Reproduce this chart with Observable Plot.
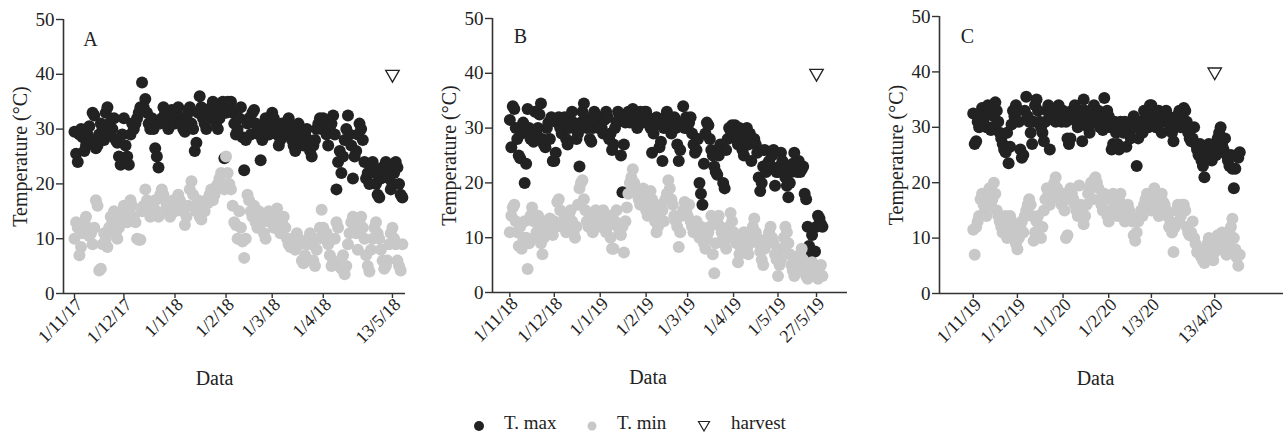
<!DOCTYPE html>
<html><head><meta charset="utf-8">
<script src="https://cdn.jsdelivr.net/npm/d3@7"></script>
<script src="https://cdn.jsdelivr.net/npm/@observablehq/plot@0.6"></script>
<style>
body{margin:0;background:#fff;}
#wrap{position:relative;width:1283px;height:434px;overflow:hidden;font-family:"Liberation Serif","Times New Roman",serif;color:#222;}
.panel{position:absolute;top:0;}
.panel text{font-family:"Liberation Serif","Times New Roman",serif;}
.lg{position:absolute;font-size:19px;line-height:1;}
</style></head><body><div id="wrap"></div>
<script>
// ---------- DATA ----------
// Panel A: daily values from 1/11/2017
const startA = "2017-11-01";
const tmaxA = [
29.5,25.5,24,29,30,28.5,26,27,29,30.5,28,33,32.5,26.5,27,29,31,30,28,33,34,31,29,30,32,28,27.5,25,23.5,29,
32,27,25,23.5,29,31,30,31,32,33,34,38.5,34,35.5,33,31,30,32,30,26.5,25,23,31,32,34,33,31,30,32,33.5,31,
31,33,34,32,31,30,29.5,32,33,34,31,30,26,27.5,33,36,34,32,31,30,32,33,34,35,33,31,30,32,34,35,24.7,
33,35,34,35,33,31,29,30,32,34,28.5,22.5,28,31,32,29,33,33.5,31,30,29,24.3,28,31,32,30,29,31,
33,32,30,29,27,28,31,30,29,31,32,30,28,27,26,29,31,30,28,27,29,30,28,26,25,27,28,30,31,32,30,
32,31,29,27,30,31,32.5,29,19,24,26,22,25,28,30,32.5,29,27,21,25,26,29,31,30,28,24,21,22,20,23,
24,22,20,18,17.5,21,23,22,24,23.5,21,19,20,22,24,23,20,18,17.5];
const tminA = [
10,13,12,7,8.5,11,13,14,12,10.5,11,9,12,17,16,4.2,4.5,9,11,10,8.5,12,14,13,15,11,10,12,14,15,
16,14,13,15.5,17,16,14,13,10,9.8,9.8,15,16,19,17,16,14,15,16.5,17,15,14,18,19,18,17,16,15,14,16,17,
15,16,18,17,16,15,12.5,14,16,19,20.5,18,16,15,17,14,13.5,16,15,17,16.5,18,19,17,18,19.5,20,21,22,20,19,
25,22,20,19,16,13,12.5,10,15,12,9.5,6.5,10,18,17,15,14,16,13,12,15,14,13,11,10,14,15,13,
13,12,14,15.5,14,11,13,14,12,10,9,8.5,10,9,8,11,10,9,6,5.5,7,9,10,11,9,6,5,8,10,12,15.3,
12,10,11,9,7,5,6,10,13,12,5,4.5,7,3.5,5,9,11,13,14,12,11,8,13,14,12,10,7,5,4,8,
10,12,13,11,10,8,6,4.5,5,6,9,11,12,10,9,6,5,4.2,9];
const ticksA = ["2017-11-01","2017-12-01","2018-01-01","2018-02-01","2018-03-01","2018-04-01","2018-05-13"];
const tickLabelsA = ["1/11/17","1/12/17","1/1/18","1/2/18","1/3/18","1/4/18","13/5/18"];
const harvestA = "2018-05-13";

// Panel B: daily values from 1/11/2018
const startB = "2018-11-01";
const tmaxB = [
31.5,26.5,34,33.5,30,28,25,24.5,29,31,20,23.5,33.5,30,28,29,27.5,33,29,30,32.5,34.5,28,27,26.5,30,31,28,32,24,
24,25.5,31,32,30,29,31,32,28,27,30,31.5,33,31,30,28,29,23,31,33,34.5,32,30,31,28,27.5,30,33,32,31,30,
32,30,29,31.5,33,32,28,29,26,27,30,31,33,32,25,18.3,27,31,32.5,33,31,32,33.5,32,31,30,32,33,32,31,33,
33,32,31,30,25.5,29,30.5,32,31,26.5,27.5,24,30,32,33,31,30,29,31,32,30,27,24,26,31,34,30,32,
30,31,32,29,27,25.5,26,28,20,18,16,23.5,29,31,30.5,28,26,25,23,22,21.5,25,27,26,20,19,26,28,30,29.5,30.5,
29,30.5,28,27,30,29,26,25,28,30,27,29,24,27.5,28,27,25.5,21,18.5,20,23,26,22,23.5,24,23,25,26,19.5,22,
22,23,25.5,24,22.5,21,19.5,17.4,20,22,23.5,25.5,23,22,24,22,22.5,23,18,17,12,8.5,7,10.5,4.5,7.5,12,14,13.5,12.5,12];
const tminB = [
11,14,15.5,16,13,11,8.5,12,8,10,13,10,4.3,9,14,15.5,13,10,11,14,12,9,7,10,13,12,11,13.5,11,10.5,
13,12,16.5,17,15,12,13,14,11,12.5,14,15,13,11,10,12,16,19,20,20.5,17,15,13,12,14,13,11,12,15,14,13,
12,14,15,13,11,12,14,10,8,8,13,15,12,11,10.5,12,7.3,13,15.5,18,20,21,22.5,20,19,18,17,16,18,19,17,
15,14,16,18.5,17,15,13,11,12,14,16,15,13,17,18,20.5,19,17,16,14,13,12,8.3,11,14,15,16.5,15,
14,16,13,12,11,12,13,11,10,12,11,9,8,10,11,12,14,7,3.5,9,13,14,12,11,10,9,8,10,12,14.5,13,
11,10,9,5.5,7,8,10,11,9,8,7,9,10,12,13.5,11,10,9,7.5,6,5,8,9,10,11,12,10,9,7,6,
3,5,6,8,10,12,11,9,7,5,4,3,6,5,4,7,8,6,5,3,2.5,3.5,4,5.5,4,5,3,2.5,4.5,5,3];
const ticksB = ["2018-11-01","2018-12-01","2019-01-01","2019-02-01","2019-03-01","2019-04-01","2019-05-01","2019-05-27"];
const tickLabelsB = ["1/11/18","1/12/18","1/1/19","1/2/19","1/3/19","1/4/19","1/5/19","27/5/19"];
const harvestB = "2019-05-27";

// Panel C: daily values from 1/11/2019
const startC = "2019-11-01";
const tmaxC = [
32.5,27,27.5,31,30,32,33.5,31,32,30,34,33,29.5,30,32,34.5,33,31,29,28,27,26,25.5,29,23.5,26.5,30.5,33,32,34,
33,31,26,24.5,25,33,35.5,32,31,29,27,31,34,35,33,31,30,29,27.5,31,33,34,26,31.5,33,32,31,33,34,32,31,
33,32.5,31,28,27,28,33,32,34,31,30,32,33,27.5,35,33,31,30,29,32,33,34,31,32,33,30,32,29.5,35.3,31,33,
32,30,26,27,31,29,27,26,31,30,29,31,26.5,30,29,28,31,32,30,23,28,31,30,29,33,32,31,30,34,
34,32,31,30,32,33,31,29,31,32,33,32,31,30,29,27.5,31,32,31,33,30,32,33.5,33,31,29,28,27.5,28,30,27,
26,25,27,24,23,21,25,26,27,25,24,26,27,25,28,29,30,27,26,28,25,24,23,25,22.5,19,22.5,25,24.5,25.5];
const tminC = [
11.5,7,12,13,14,17,18,16,15,14,17,19,16,17,20,18,15,14,13,12,11,13,14,10,12,14,13,12,11,9,
8,10,12,13,11,14,15,16,17,16,14,9.5,11,13,14,12,10,12,15,17,19,18,16,17,19,20,21,19,18,17,16,
18,15,10,10.5,17,19,18,17,16,15,14,19.5,16,15,12.5,14,16,18,19,20,17,20.5,21,20,19,17,16,15,18,17,14,
13,15,17,18,16,15,14,17,18,16,15,13,14,16,15,14,13,10.5,9.5,11,13,14,15,14,16,17,18,17,16,
15,17,19,18,16,14,15,18,16.5,16,15,14,12,13,11,7.5,12,15,16,13,14,16,16,15,12,11,10.5,11,13,10,9,
7.5,8,7,6.5,6,5.5,7,9,10,8,7,6,7.5,9,10.5,8,9,11,10,8,7,9,11,12,13.5,10,8,6.5,5,7];
const ticksC = ["2019-11-01","2019-12-01","2020-01-01","2020-02-01","2020-03-01","2020-04-13"];
const tickLabelsC = ["1/11/19","1/12/19","1/1/20","1/2/20","1/3/20","13/4/20"];
const harvestC = "2020-04-13";

const harvestLevel = 40;
const panelLetters = ["A","B","C"];
const yTicks = [0,10,20,30,40,50];
const seriesNames = ["T. max","T. min","harvest"];

// ---------- LAYOUT ----------
const FONT = '"Liberation Serif","Times New Roman",serif';
const H = 400;
const layouts = [
  {left:0,   width:420, mL:63, mR:15, mT:19, yB:293, domain:["2017-10-25T08:00Z","2018-05-20T22:00Z"], dataDx:-20, letter:[27,20]},
  {left:420, width:430, mL:72, mR:3,  mT:18, yB:292, domain:["2018-10-20T07:00Z","2019-06-16T22:00Z"], dataDx:-22, letter:[28,18]},
  {left:860, width:423, mL:79, mR:0,  mT:16, yB:293, domain:["2019-10-09T02:00Z","2020-05-29T17:00Z"], dataDx:-16, letter:[28,20]}
];
const sets = [
  {start:startA, tmax:tmaxA, tmin:tminA, ticks:ticksA, labels:tickLabelsA, harvest:harvestA},
  {start:startB, tmax:tmaxB, tmin:tminB, ticks:ticksB, labels:tickLabelsB, harvest:harvestB},
  {start:startC, tmax:tmaxC, tmin:tminC, ticks:ticksC, labels:tickLabelsC, harvest:harvestC}
];
const COL_MAX = "#222222", COL_MIN = "#c8c8c8", AXIS = "#333";

const wrap = document.getElementById("wrap");
sets.forEach((s, k) => {
  const L = layouts[k];
  const t0 = new Date(s.start + "T00:00Z");
  const rowsMax = s.tmax.map((v, i) => ({date: d3.utcDay.offset(t0, i), v}));
  const rowsMin = s.tmin.map((v, i) => ({date: d3.utcDay.offset(t0, i), v}));
  const tickDates = s.ticks.map(d => new Date(d + "T00:00Z"));
  const labelMap = new Map(tickDates.map((d, i) => [+d, s.labels[i]]));
  const dom = L.domain.map(d => new Date(d));
  const svg = Plot.plot({
    width: L.width, height: H,
    marginLeft: L.mL, marginRight: L.mR, marginTop: L.mT, marginBottom: H - L.yB,
    style: {fontFamily: FONT, fontSize: "18px", color: "#222", background: "transparent", overflow: "visible"},
    x: {type: "utc", domain: dom},
    y: {domain: [0, 50]},
    marks: [
      Plot.dot(rowsMax, {x: "date", y: "v", r: 6, fill: COL_MAX}),
      Plot.dot(rowsMin, {x: "date", y: "v", r: 6, fill: COL_MIN}),
      Plot.ruleY([0], {stroke: AXIS, strokeWidth: 1.6}),
      Plot.ruleX([dom[0]], {stroke: AXIS, strokeWidth: 1.6}),
      Plot.axisY({ticks: yTicks, tickSize: 7, tickPadding: 2, label: null, stroke: AXIS, strokeWidth: 1.4, fontSize: 19, fontFamily: FONT}),
      // tick marks only
      Plot.axisX({ticks: tickDates, tickFormat: () => "", tickSize: 5, label: null, stroke: AXIS, strokeWidth: 1.4}),
      // rotated tick labels only
      Plot.axisX({ticks: tickDates, tickFormat: d => labelMap.get(+d), tickRotate: -45, tickSize: 0, tickPadding: 6, label: null, fontSize: 18, fontFamily: FONT, fill: "#222", dx: 5, dy: 2}),
      Plot.dot([{date: new Date(s.harvest + "T00:00Z"), v: harvestLevel}], {x: "date", y: "v", symbol: "triangle", rotate: 180, r: 5, stroke: "#222", fill: "none", strokeWidth: 1.3}),
      Plot.text([panelLetters[k]], {text: d => d, frameAnchor: "top-left", textAnchor: "middle", lineAnchor: "middle", dx: L.letter[0], dy: L.letter[1], fontSize: 20, fill: "#222", fontFamily: FONT}),
      Plot.text(["Temperature (°C)"], {text: d => d, frameAnchor: "left", textAnchor: "middle", lineAnchor: "middle", rotate: -90, dx: -43, fontSize: 20, fill: "#222", fontFamily: FONT}),
      Plot.text(["Data"], {text: d => d, frameAnchor: "bottom", textAnchor: "middle", lineAnchor: "middle", dx: L.dataDx, dy: 85, fontSize: 20, fill: "#222", fontFamily: FONT})
    ]
  });
  svg.classList.add("panel");
  svg.style.left = L.left + "px";
  wrap.appendChild(svg);
});

// ---------- LEGEND ----------
const lg = [
  {sym: `<svg width="12" height="12"><circle cx="6" cy="6" r="5" fill="${COL_MAX}"/></svg>`, sx: 473, tx: 504},
  {sym: `<svg width="12" height="12"><circle cx="6" cy="6" r="4.5" fill="${COL_MIN}"/></svg>`, sx: 586, tx: 617},
  {sym: `<svg width="14" height="12"><path d="M1.5,1.5 L12.5,1.5 L7,11 Z" fill="none" stroke="#222" stroke-width="1.2"/></svg>`, sx: 697, tx: 731}
];
lg.forEach((d, i) => {
  const s = document.createElement("div");
  s.className = "lg"; s.style.left = d.sx + "px"; s.style.top = "416px"; s.innerHTML = d.sym;
  wrap.appendChild(s);
  const t = document.createElement("div");
  t.className = "lg"; t.style.left = d.tx + "px"; t.style.top = "413px"; t.textContent = seriesNames[i];
  wrap.appendChild(t);
});
</script>
</body></html>
